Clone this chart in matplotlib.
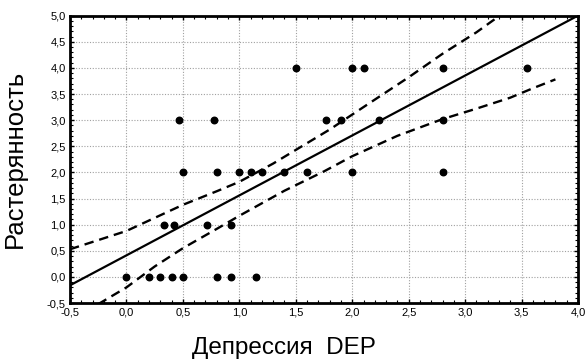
import matplotlib
matplotlib.use("Agg")
import matplotlib.pyplot as plt
from matplotlib.ticker import MultipleLocator, FuncFormatter

# scatter points (DEP, Растерянность)
dep = [1.5, 2.0, 2.1, 2.8, 3.55,
       0.47, 0.78, 1.77, 1.9, 2.24, 2.8,
       0.5, 0.8, 1.0, 1.1, 1.2, 1.4, 1.6, 2.0, 2.8,
       0.33, 0.42, 0.71, 0.93,
       0.0, 0.2, 0.3, 0.4, 0.5, 0.8, 0.93, 1.15]
rast = [4.0] * 5 + [3.0] * 6 + [2.0] * 9 + [1.0] * 4 + [0.0] * 8

# regression line end points
fit_x = [-0.5, 4.0]
fit_y = [-0.16, 5.0]

# confidence band
upper_x = [-0.5, 0.0, 0.25, 0.5, 0.8, 1.0, 1.3, 1.8, 2.1, 2.5, 2.8, 3.1, 3.3]
upper_y = [0.53, 0.88, 1.13, 1.38, 1.64, 1.82, 2.17, 2.82, 3.25, 3.82, 4.27, 4.68, 4.99]
lower_x = [-0.25, 0.0, 0.25, 0.5, 0.8, 1.0, 1.4, 1.75, 2.0, 2.4, 2.8, 3.1, 3.4, 3.6, 3.8]
lower_y = [-0.52, -0.2, 0.2, 0.55, 0.92, 1.17, 1.65, 2.02, 2.31, 2.70, 3.02, 3.22, 3.43, 3.61, 3.78]

xticks = [-0.5, 0.0, 0.5, 1.0, 1.5, 2.0, 2.5, 3.0, 3.5, 4.0]
yticks = [-0.5, 0.0, 0.5, 1.0, 1.5, 2.0, 2.5, 3.0, 3.5, 4.0, 4.5, 5.0]

plt.rcParams["font.family"] = ["Liberation Sans", "DejaVu Sans"]

fig = plt.figure(figsize=(5.88, 3.63), dpi=100)
ax = fig.add_axes([0.119, 0.165, 0.864, 0.792])

ax.grid(True, color="#a0a0a0", linestyle=(0, (1, 1.5)), linewidth=0.8)
ax.set_axisbelow(True)

ax.plot(fit_x, fit_y, color="black", linewidth=1.6, zorder=3)
ax.plot(upper_x, upper_y, color="black", linewidth=1.7,
        linestyle=(0, (4, 2.5)), zorder=3)
ax.plot(lower_x, lower_y, color="black", linewidth=1.7,
        linestyle=(0, (4, 2.5)), zorder=3)
ax.scatter(dep, rast, s=22, color="black", zorder=4)

ax.set_xlim(-0.5, 4.0)
ax.set_ylim(-0.5, 5.0)
ax.set_xticks(xticks)
ax.set_yticks(yticks)
fmt = FuncFormatter(lambda v, _: f"{v:.1f}".replace(".", ","))
ax.xaxis.set_major_formatter(fmt)
ax.yaxis.set_major_formatter(fmt)
ax.xaxis.set_minor_locator(MultipleLocator(0.1))
ax.yaxis.set_minor_locator(MultipleLocator(0.1))
ax.tick_params(which="both", direction="in", top=True, right=True,
               labelsize=8, pad=3)
ax.tick_params(which="major", length=3, width=1)
ax.tick_params(which="minor", length=2, width=0.8)

for s in ax.spines.values():
    s.set_linewidth(2)

ax.set_xlabel("Депрессия  DEP", fontsize=17.5, va="center")
ax.xaxis.set_label_coords(0.421, -0.156)
ax.set_ylabel("Растерянность", fontsize=18.5, va="center")
ax.yaxis.set_label_coords(-0.108, 0.5)

fig.savefig("out.png", dpi=100)
